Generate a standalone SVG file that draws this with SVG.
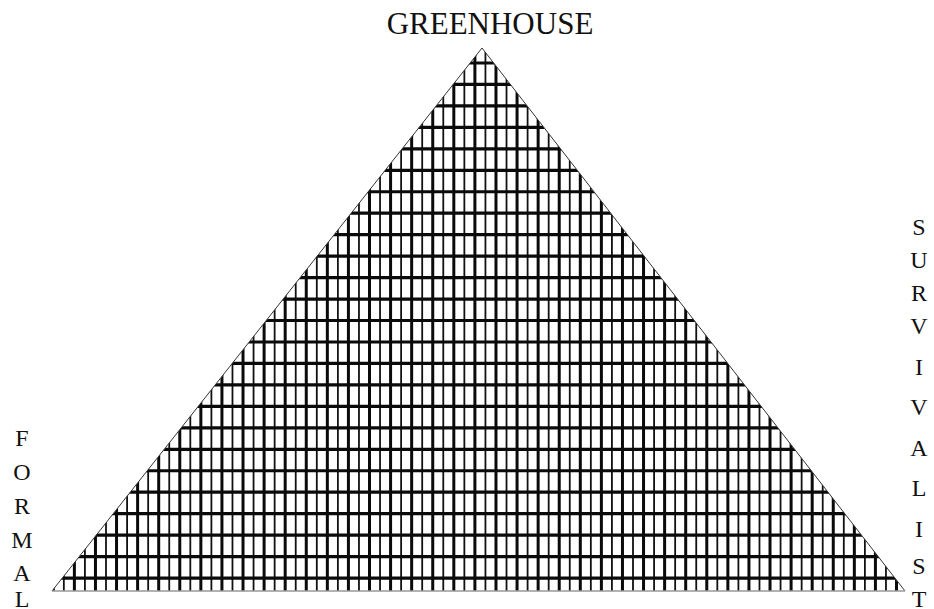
<svg xmlns="http://www.w3.org/2000/svg" width="934" height="609" viewBox="0 0 934 609">
<style>
.lbl{font-family:"Liberation Serif","Times New Roman",serif;fill:#111;text-anchor:middle}
.t{font-size:31px}
.s{font-size:24px}
.thick{stroke:#0a0a0a;stroke-width:3;fill:none}
.thin{stroke:#111;stroke-width:1.8;fill:none}
.hz{stroke:#0a0a0a;stroke-width:3.2;fill:none}
.edge{stroke:#333;stroke-width:1;fill:none}
</style>
<defs>
<clipPath id="tri"><polygon points="482,48 52,591 905,591"/></clipPath>
</defs>
<g id="grid" clip-path="url(#tri)">
<path class="thick" d="M53.3 40v560m21.08-560v560m21.08-560v560m21.08-560v560m21.08-560v560m21.08-560v560m21.08-560v560m21.08-560v560m21.08-560v560m21.08-560v560m21.08-560v560m21.08-560v560m21.08-560v560m21.08-560v560m21.08-560v560m21.08-560v560m21.08-560v560m21.08-560v560m21.08-560v560m21.08-560v560m21.08-560v560m21.08-560v560m21.08-560v560m21.08-560v560m21.08-560v560m21.08-560v560m21.08-560v560m21.08-560v560m21.08-560v560m21.08-560v560m21.08-560v560m21.08-560v560m21.08-560v560m21.08-560v560m21.08-560v560m21.08-560v560m21.08-560v560m21.08-560v560m21.08-560v560m21.08-560v560m21.08-560v560"/>
<path class="thin" d="M63.84 40v560m21.08-560v560m21.08-560v560m21.08-560v560m21.08-560v560m21.08-560v560m21.08-560v560m21.08-560v560m21.08-560v560m21.08-560v560m21.08-560v560m21.08-560v560m21.08-560v560m21.08-560v560m21.08-560v560m21.08-560v560m21.08-560v560m21.08-560v560m21.08-560v560m21.08-560v560m21.08-560v560m21.08-560v560m21.08-560v560m21.08-560v560m21.08-560v560m21.08-560v560m21.08-560v560m21.08-560v560m21.08-560v560m21.08-560v560m21.08-560v560m21.08-560v560m21.08-560v560m21.08-560v560m21.08-560v560m21.08-560v560m21.08-560v560m21.08-560v560m21.08-560v560m21.08-560v560"/>
<path class="hz" d="M40 63h880m-880 21.46h880m-880 21.46h880m-880 21.46h880m-880 21.46h880m-880 21.46h880m-880 21.46h880m-880 21.46h880m-880 21.46h880m-880 21.46h880m-880 21.46h880m-880 21.46h880m-880 21.46h880m-880 21.46h880m-880 21.46h880m-880 21.46h880m-880 21.46h880m-880 21.46h880m-880 21.46h880m-880 21.46h880m-880 21.46h880m-880 21.46h880m-880 21.46h880m-880 21.46h880m-880 21.46h880"/>
</g>
<g id="triangle">
<polyline class="edge" points="52,591 482,48 905,591"/>
<line x1="52" y1="591" x2="905" y2="591" stroke="#999" stroke-width="1.5"/>
</g>
<g id="label-greenhouse"><text class="lbl t" x="490" y="34">GREENHOUSE</text></g>
<g id="label-formal" class="lbl s">
<text x="22" y="446">F</text>
<text x="22" y="480">O</text>
<text x="22" y="514">R</text>
<text x="22" y="548">M</text>
<text x="22" y="581">A</text>
<text x="22" y="607">L</text>
</g>
<g id="label-survivalist" class="lbl s">
<text x="919" y="235">S</text>
<text x="919" y="268">U</text>
<text x="919" y="301">R</text>
<text x="919" y="334">V</text>
<text x="919" y="375">I</text>
<text x="919" y="415">V</text>
<text x="919" y="456">A</text>
<text x="919" y="496">L</text>
<text x="919" y="537">I</text>
<text x="919" y="574">S</text>
<text x="919" y="607">T</text>
</g>
</svg>
